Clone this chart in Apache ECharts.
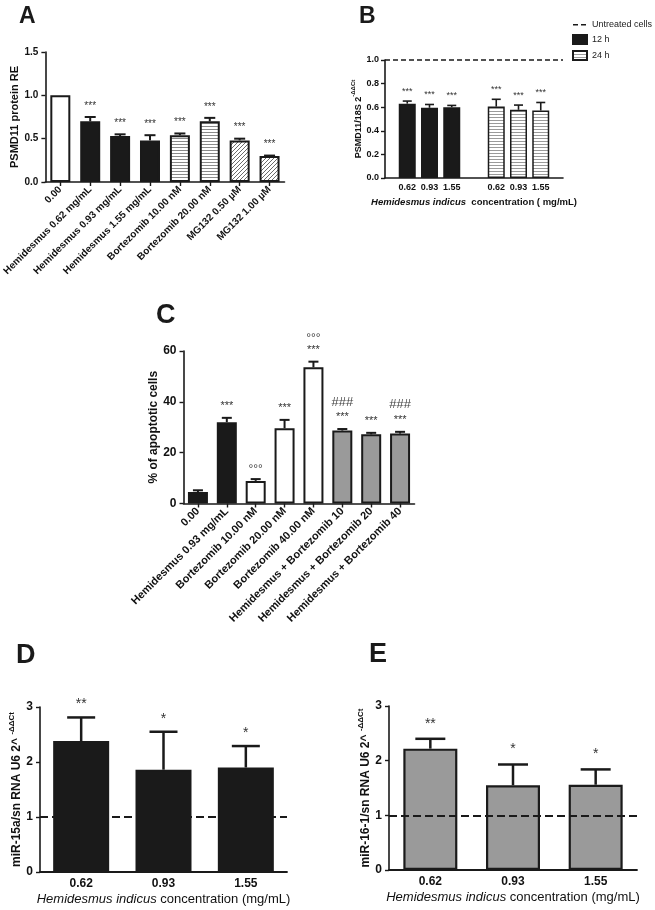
<!DOCTYPE html>
<html><head><meta charset="utf-8">
<script src="https://cdn.jsdelivr.net/npm/echarts@6/dist/echarts.min.js"></script>
<style>html,body{margin:0;padding:0;background:#fff}#c{width:655px;height:910px}</style>
</head><body><div id="c"></div>
<script>
// ---------- Panel A ----------
const aCategories = ['0.00','Hemidesmus 0.62 mg/mL','Hemidesmus 0.93 mg/mL','Hemidesmus 1.55 mg/mL','Bortezomib 10.00 nM','Bortezomib 20.00 nM','MG132 0.50 \u00b5M','MG132 1.00 \u00b5M'];
const aMeans = [1.00, 0.70, 0.53, 0.48, 0.54, 0.70, 0.48, 0.30];
const aErrors = [0, 0.05, 0.02, 0.06, 0.02, 0.04, 0.02, 0.005];
const aSignif = ['', '***', '***', '***', '***', '***', '***', '***'];
const aYTicks = [0, 0.5, 1.0, 1.5];
// ---------- Panel B ----------
const bConcentrations = ['0.62', '0.93', '1.55'];
const b12hMeans = [0.63, 0.595, 0.60];
const b12hErrors = [0.022, 0.028, 0.015];
const b24hMeans = [0.605, 0.578, 0.572];
const b24hErrors = [0.062, 0.040, 0.068];
const bSignif12 = ['***', '***', '***'];
const bSignif24 = ['***', '***', '***'];
const bUntreated = 1.0;
const bYTicks = [0, 0.2, 0.4, 0.6, 0.8, 1.0];
// ---------- Panel C ----------
const cCategories = ['0.00','Hemidesmus 0.93 mg/mL','Bortezomib 10.00 nM','Bortezomib 20.00 nM','Bortezomib 40.00 nM','Hemidesmus + Bortezomib 10','Hemidesmus + Bortezomib 20','Hemidesmus + Bortezomib 40'];
const cMeans = [4.5, 32.0, 8.9, 29.6, 53.6, 28.7, 27.2, 27.5];
const cErrors = [0.7, 1.7, 0.7, 3.3, 2.2, 0.6, 0.6, 0.7];
const cSignif = ['', '***', '\u00b0\u00b0\u00b0', '***', '\u00b0\u00b0\u00b0\n***', '###\n***', '***', '###\n***'];
const cYTicks = [0, 20, 40, 60];
// ---------- Panel D ----------
const dConcentrations = ['0.62', '0.93', '1.55'];
const dMeans = [2.38, 1.86, 1.90];
const dErrors = [0.43, 0.69, 0.39];
const dSignif = ['**', '*', '*'];
const dControl = 1;
// ---------- Panel E ----------
const eConcentrations = ['0.62', '0.93', '1.55'];
const eMeans = [2.22, 1.55, 1.56];
const eErrors = [0.18, 0.38, 0.28];
const eSignif = ['**', '*', '*'];
const eControl = 1;
const deYTicks = [0, 1, 2, 3];

// ---------- styling ----------
const FONT = "'Liberation Sans', Arial, Helvetica, sans-serif";
const INK = '#1a1a1a';

function stripes(line, period, thick) {
  const c = document.createElement('canvas'); c.width = 8; c.height = period;
  const g = c.getContext('2d'); g.fillStyle = '#fff'; g.fillRect(0, 0, 8, period);
  g.fillStyle = line; g.fillRect(0, 0, 8, thick); return c;
}
function hatch(line, n) {
  const c = document.createElement('canvas'); c.width = n; c.height = n;
  const g = c.getContext('2d'); g.fillStyle = '#fff'; g.fillRect(0, 0, n, n);
  g.strokeStyle = line; g.lineWidth = 1;
  g.beginPath(); g.moveTo(-1, n + 1); g.lineTo(n + 1, -1);
  g.moveTo(-1, 1); g.lineTo(1, -1); g.moveTo(n - 1, n + 1); g.lineTo(n + 1, n - 1); g.stroke();
  return c;
}
const patStripeA = { image: stripes('#8a8a8a', 3, 1), repeat: 'repeat' };
const patHatchA = { image: hatch('#6a6a6a', 4), repeat: 'repeat' };
const patStripeB = { image: stripes('#9a9a9a', 3, 1), repeat: 'repeat' };
const aFills = ['#ffffff', INK, INK, INK, patStripeA, patStripeA, patHatchA, patHatchA];
const cFills = [INK, INK, '#ffffff', '#ffffff', '#ffffff', '#9a9a9a', '#9a9a9a', '#9a9a9a'];
const dashIcon = 'path://M0,0h0.05v0.05h-0.05zM13.95,8.95h0.05v0.05h-0.05zM0,4h5v1.5h-5zM8,4h5v1.5h-5z';

const annStyles = {
  '*': { size: 11, h: 12, gap: 12, fill: '#333' },
  '\u00b0': { size: 12, h: 10, gap: 9, fill: '#444' },
  '#': { size: 13, h: 18, gap: 12, fill: '#444' }
};

function errorSeries(xi, yi, xs, means, errs, sigs, o) {
  return {
    type: 'custom', xAxisIndex: xi, yAxisIndex: yi, z: 10, silent: true,
    data: means.map((m, i) => [xs[i], m, errs[i]]),
    renderItem(params, api) {
      const x = api.value(0), m = api.value(1), e = api.value(2);
      const b = api.coord([x, m]), t = api.coord([x, m + e]);
      const ch = [];
      if (e > 0) {
        ch.push({ type: 'line', shape: { x1: b[0], y1: b[1], x2: t[0], y2: t[1] }, style: { stroke: INK, lineWidth: o.lw } });
        ch.push({ type: 'line', shape: { x1: t[0] - o.cap / 2, y1: t[1], x2: t[0] + o.cap / 2, y2: t[1] }, style: { stroke: INK, lineWidth: o.lw } });
      }
      const sig = sigs[params.dataIndex];
      if (sig) {
        const lines = sig.split('\n').reverse();
        let y = null, prevH = 0;
        lines.forEach((ln, k) => {
          const st = Object.assign({}, annStyles[ln[0]]);
          st.size = Math.round(st.size * o.scale);
          if (k === 0) y = t[1] - (o.gap != null && ln[0] === '*' ? o.gap : st.gap);
          else y -= (prevH / 2 + st.h / 2);
          prevH = st.h;
          ch.push({ type: 'text', style: { text: ln, x: t[0], y: y, align: 'center', verticalAlign: 'middle', fontSize: st.size, fontFamily: FONT, fill: st.fill } });
        });
      }
      return { type: 'group', children: ch };
    }
  };
}

function yAxisBase(gi, ticks, dec, fs, margin, name, nameGap, nameStyle) {
  return {
    type: 'value', gridIndex: gi, min: ticks[0], max: ticks[ticks.length - 1], interval: ticks[1] - ticks[0],
    axisLine: { show: true, onZero: false, lineStyle: { color: INK, width: 1.6 } },
    axisTick: { show: true, length: 4, lineStyle: { color: INK, width: 1.4 } },
    splitLine: { show: false },
    axisLabel: { color: '#111', fontFamily: FONT, fontWeight: 'bold', fontSize: fs, margin: margin, formatter: v => v.toFixed(dec) },
    name: name, nameLocation: 'middle', nameRotate: 90, nameGap: nameGap,
    nameTextStyle: nameStyle
  };
}

const idx3 = [0, 1, 2];
const idx8 = [0, 1, 2, 3, 4, 5, 6, 7];
const bX12 = bConcentrations.map((_, i) => i);
const bX24 = bConcentrations.map((_, i) => i + bConcentrations.length + 1);

const option = {
  animation: false,
  backgroundColor: '#fff',
  title: [
    { text: 'A', left: 14, top: 0, textStyle: { fontSize: 23, fontWeight: 'bold', fontFamily: FONT, color: INK } },
    { text: 'B', left: 354, top: 0, textStyle: { fontSize: 23, fontWeight: 'bold', fontFamily: FONT, color: INK } },
    { text: 'C', left: 151, top: 297, textStyle: { fontSize: 27, fontWeight: 'bold', fontFamily: FONT, color: INK } },
    { text: 'D', left: 11, top: 637, textStyle: { fontSize: 27, fontWeight: 'bold', fontFamily: FONT, color: INK } },
    { text: 'E', left: 364, top: 636, textStyle: { fontSize: 27, fontWeight: 'bold', fontFamily: FONT, color: INK } }
  ],
  legend: {
    orient: 'vertical', left: 567, top: 15, itemWidth: 14, itemHeight: 9, itemGap: 5,
    textStyle: { fontSize: 9, fontFamily: FONT, color: '#222' },
    data: [{ name: 'Untreated cells', icon: dashIcon }, { name: '12 h', icon: 'rect' }, { name: '24 h', icon: 'rect' }]
  },
  grid: [
    { left: 38, top: 52, width: 246.5, height: 130 },
    { left: 385, top: 60, width: 178, height: 118 },
    { left: 183.5, top: 351, width: 231, height: 152.5 },
    { left: 40, top: 707, width: 247, height: 165 },
    { left: 389, top: 706, width: 248, height: 164 }
  ],
  xAxis: [
    { type: 'category', gridIndex: 0, data: aCategories,
      axisLine: { onZero: false, lineStyle: { color: INK, width: 1.6 } },
      axisTick: { show: true, alignWithLabel: true, length: 4, lineStyle: { color: INK, width: 1.4 } },
      axisLabel: { rotate: 45, interval: 0, margin: 6, fontSize: 10, fontWeight: 'bold', fontFamily: FONT, color: '#111' } },
    { type: 'value', gridIndex: 1, min: -1, max: 7, interval: 1, splitLine: { show: false },
      axisLine: { onZero: false, lineStyle: { color: INK, width: 1.6 } }, axisTick: { show: false },
      axisLabel: { margin: 5, fontSize: 9, fontWeight: 'bold', fontFamily: FONT, color: '#111',
        formatter: v => { const i = Math.round(v); if (bX12.indexOf(i) >= 0) return bConcentrations[i]; const j = bX24.indexOf(i); return j >= 0 ? bConcentrations[j] : ''; } },
      name: '{i|Hemidesmus indicus}  concentration ( mg/mL)', nameLocation: 'middle', nameGap: 19,
      nameTextStyle: { fontSize: 9.5, fontWeight: 'bold', fontFamily: FONT, color: '#111',
        rich: { i: { fontSize: 9.5, fontWeight: 'bold', fontStyle: 'italic', fontFamily: FONT, color: '#111' } } } },
    { type: 'category', gridIndex: 2, data: cCategories,
      axisLine: { onZero: false, lineStyle: { color: INK, width: 1.6 } },
      axisTick: { show: true, alignWithLabel: true, length: 4, lineStyle: { color: INK, width: 1.4 } },
      axisLabel: { rotate: 45, interval: 0, margin: 6, fontSize: 11, fontWeight: 'bold', fontFamily: FONT, color: '#111' } },
    { type: 'category', gridIndex: 3, data: dConcentrations,
      axisLine: { onZero: false, lineStyle: { color: INK, width: 1.8 } }, axisTick: { show: false },
      axisLabel: { margin: 6, fontSize: 12, fontWeight: 'bold', fontFamily: FONT, color: '#111' },
      name: '{i|Hemidesmus indicus} concentration (mg/mL)', nameLocation: 'middle', nameGap: 21,
      nameTextStyle: { fontSize: 13, fontFamily: FONT, color: '#111',
        rich: { i: { fontSize: 13, fontStyle: 'italic', fontFamily: FONT, color: '#111' } } } },
    { type: 'category', gridIndex: 4, data: eConcentrations,
      axisLine: { onZero: false, lineStyle: { color: INK, width: 1.8 } }, axisTick: { show: false },
      axisLabel: { margin: 6, fontSize: 12, fontWeight: 'bold', fontFamily: FONT, color: '#111' },
      name: '{i|Hemidesmus indicus} concentration (mg/mL)', nameLocation: 'middle', nameGap: 21,
      nameTextStyle: { fontSize: 13, fontFamily: FONT, color: '#111',
        rich: { i: { fontSize: 13, fontStyle: 'italic', fontFamily: FONT, color: '#111' } } } }
  ],
  yAxis: [
    yAxisBase(0, aYTicks, 1, 10, 7, 'PSMD11 protein RE', 21, { fontSize: 11, fontWeight: 'bold', fontFamily: FONT, color: '#111' }),
    yAxisBase(1, bYTicks, 1, 9, 6, '{n|PSMD11/18S 2}{s|-\u0394\u0394Ct}', 16,
      { fontSize: 9, fontWeight: 'bold', fontFamily: FONT, color: '#111',
        rich: { n: { fontSize: 9, fontWeight: 'bold', fontFamily: FONT, color: '#111', lineHeight: 12, verticalAlign: 'bottom' },
                s: { fontSize: 6, fontFamily: FONT, color: '#111', lineHeight: 7, verticalAlign: 'top' } } }),
    yAxisBase(2, cYTicks, 0, 12, 7, '% of apoptotic cells', 20, { fontSize: 12, fontWeight: 'bold', fontFamily: FONT, color: '#111' }),
    yAxisBase(3, deYTicks, 0, 12, 7, '{n|miR-15a/sn RNA U6 2^ }{s|-\u0394\u0394Ct}', 17,
      { fontSize: 12, fontWeight: 'bold', fontFamily: FONT, color: '#111',
        rich: { n: { fontSize: 12, fontWeight: 'bold', fontFamily: FONT, color: '#111', lineHeight: 15, verticalAlign: 'bottom' },
                s: { fontSize: 8, fontFamily: FONT, color: '#111', lineHeight: 9, verticalAlign: 'top' } } }),
    yAxisBase(4, deYTicks, 0, 12, 7, '{n|miR-16-1/sn RNA U6 2^ }{s|-\u0394\u0394Ct}', 10,
      { fontSize: 12, fontWeight: 'bold', fontFamily: FONT, color: '#111',
        rich: { n: { fontSize: 12, fontWeight: 'bold', fontFamily: FONT, color: '#111', lineHeight: 15, verticalAlign: 'bottom' },
                s: { fontSize: 8, fontFamily: FONT, color: '#111', lineHeight: 9, verticalAlign: 'top' } } })
  ],
  series: [
    // A
    { type: 'bar', xAxisIndex: 0, yAxisIndex: 0, barWidth: 20,
      data: aMeans.map((v, i) => ({ value: v, itemStyle: { color: aFills[i], borderColor: INK, borderWidth: 2 } })) },
    errorSeries(0, 0, idx8, aMeans, aErrors, aSignif, { lw: 2, cap: 11, scale: 0.9, gap: 11 }),
    // B
    { type: 'line', name: 'Untreated cells', xAxisIndex: 1, yAxisIndex: 1, data: [], symbol: 'none', showSymbol: false,
      itemStyle: { color: INK }, lineStyle: { color: INK, width: 1.5, type: [4, 3] } },
    { type: 'bar', name: '12 h', xAxisIndex: 1, yAxisIndex: 1, barWidth: 17, barGap: '-100%',
      itemStyle: { color: INK, borderColor: INK, borderWidth: 1.5 },
      data: b12hMeans.map((v, i) => [bX12[i], v]),
      markLine: { silent: true, symbol: 'none', label: { show: false }, lineStyle: { color: INK, width: 1.5, type: [5, 3] },
        data: [{ yAxis: bUntreated }] } },
    { type: 'bar', name: '24 h', xAxisIndex: 1, yAxisIndex: 1, barWidth: 17, barGap: '-100%',
      itemStyle: { color: patStripeB, borderColor: INK, borderWidth: 1.5 },
      data: b24hMeans.map((v, i) => [bX24[i], v]) },
    errorSeries(1, 1, bX12, b12hMeans, b12hErrors, bSignif12, { lw: 1.6, cap: 9, scale: 0.8, gap: 10 }),
    errorSeries(1, 1, bX24, b24hMeans, b24hErrors, bSignif24, { lw: 1.6, cap: 9, scale: 0.8, gap: 10 }),
    // C
    { type: 'bar', xAxisIndex: 2, yAxisIndex: 2, barWidth: 20,
      data: cMeans.map((v, i) => ({ value: v, itemStyle: { color: cFills[i], borderColor: INK, borderWidth: 2 } })) },
    errorSeries(2, 2, idx8, cMeans, cErrors, cSignif, { lw: 2, cap: 10, scale: 1, gap: 12 }),
    // D
    { type: 'bar', xAxisIndex: 3, yAxisIndex: 3, barWidth: 56,
      itemStyle: { color: INK, borderColor: INK, borderWidth: 2 }, data: dMeans,
      markLine: { silent: true, symbol: 'none', label: { show: false }, lineStyle: { color: INK, width: 1.8, type: [8, 4] },
        data: [{ yAxis: dControl }] } },
    errorSeries(3, 3, idx3, dMeans, dErrors, dSignif, { lw: 2.5, cap: 28, scale: 1.25, gap: 13 }),
    // E
    { type: 'bar', xAxisIndex: 4, yAxisIndex: 4, barWidth: 54,
      itemStyle: { color: '#9a9a9a', borderColor: INK, borderWidth: 2.2 }, data: eMeans,
      markLine: { silent: true, symbol: 'none', label: { show: false }, lineStyle: { color: INK, width: 1.8, type: [8, 4] },
        data: [{ yAxis: eControl }] } },
    errorSeries(4, 4, idx3, eMeans, eErrors, eSignif, { lw: 2.5, cap: 30, scale: 1.25, gap: 15 })
  ]
};
const chart = echarts.init(document.getElementById('c'), null, { renderer: 'canvas' });
chart.setOption(option);
</script></body></html>
